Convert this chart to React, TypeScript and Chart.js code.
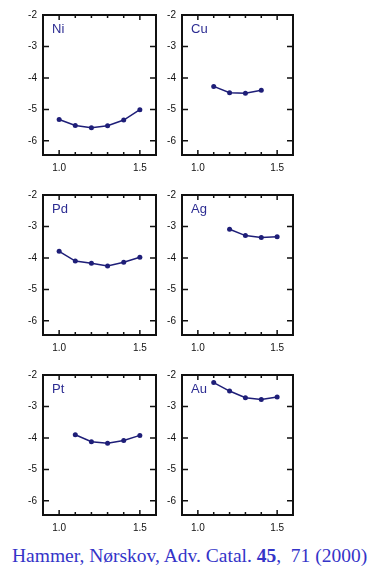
import React, { useEffect, useRef } from "react";
import { Chart, registerables } from "chart.js";

Chart.register(...registerables);

const NI_X = [1.0, 1.1, 1.2, 1.3, 1.4, 1.5];
const NI_Y = [-5.32, -5.51, -5.58, -5.52, -5.34, -5.01];
const CU_X = [1.1, 1.2, 1.3, 1.4];
const CU_Y = [-4.27, -4.47, -4.49, -4.39];
const PD_X = [1.0, 1.1, 1.2, 1.3, 1.4, 1.5];
const PD_Y = [-3.79, -4.1, -4.17, -4.26, -4.14, -3.98];
const AG_X = [1.2, 1.3, 1.4, 1.5];
const AG_Y = [-3.09, -3.29, -3.35, -3.33];
const PT_X = [1.1, 1.2, 1.3, 1.4, 1.5];
const PT_Y = [-3.9, -4.12, -4.17, -4.08, -3.92];
const AU_X = [1.1, 1.2, 1.3, 1.4, 1.5];
const AU_Y = [-2.24, -2.51, -2.72, -2.78, -2.7];

const Y_TICKS = [-2, -3, -4, -5, -6];
const X_TICKS = [1.0, 1.5];
const X_MINOR = [1.1, 1.2, 1.3, 1.4];

const PANELS = [
  { name: "Ni", xs: NI_X, ys: NI_Y, col: 0, row: 0 },
  { name: "Cu", xs: CU_X, ys: CU_Y, col: 1, row: 0 },
  { name: "Pd", xs: PD_X, ys: PD_Y, col: 0, row: 1 },
  { name: "Ag", xs: AG_X, ys: AG_Y, col: 1, row: 1 },
  { name: "Pt", xs: PT_X, ys: PT_Y, col: 0, row: 2 },
  { name: "Au", xs: AU_X, ys: AU_Y, col: 1, row: 2 },
];

const COL_LEFT = [43, 182];
const COL_RIGHT = [156, 293];
const ROW_TOP = [13, 193, 373];
const AREA_H = 142;
const PAD_L = 32;
const PAD_T = 10;
const PAD_R = 8;
const PAD_B = 24;

const LINE_COLOR = "#1e1e78";
const LABEL_COLOR = "#2c2c92";
const TICK_FONT = { family: "'Liberation Sans', Arial, sans-serif", size: 10 };

const framePlugin = {
  id: "frame",
  afterDraw(chart: any, _args: any, opts: any) {
    const { ctx, chartArea: a, scales } = chart;
    const xs = scales.x;
    const ys = scales.y;
    ctx.save();
    ctx.strokeStyle = "#111";
    ctx.lineWidth = 2;
    ctx.strokeRect(a.left, a.top, a.right - a.left, a.bottom - a.top);
    ctx.lineWidth = 1.5;
    ctx.beginPath();
    Y_TICKS.forEach((v) => {
      const y = ys.getPixelForValue(v);
      ctx.moveTo(a.left, y);
      ctx.lineTo(a.left + 6, y);
      ctx.moveTo(a.right, y);
      ctx.lineTo(a.right - 6, y);
    });
    X_TICKS.forEach((v) => {
      const x = xs.getPixelForValue(v);
      ctx.moveTo(x, a.bottom);
      ctx.lineTo(x, a.bottom - 5);
      ctx.moveTo(x, a.top);
      ctx.lineTo(x, a.top + 5);
    });
    X_MINOR.forEach((v) => {
      const x = xs.getPixelForValue(v);
      ctx.moveTo(x, a.bottom);
      ctx.lineTo(x, a.bottom - 3);
      ctx.moveTo(x, a.top);
      ctx.lineTo(x, a.top + 3);
    });
    ctx.stroke();
    ctx.fillStyle = LABEL_COLOR;
    ctx.font = "13px 'Liberation Sans', Arial, sans-serif";
    ctx.textBaseline = "alphabetic";
    ctx.textAlign = "left";
    ctx.fillText(opts.label, a.left + 9, a.top + 18);
    ctx.restore();
  },
};

function Panel({ p }: { p: any }) {
  const ref = useRef<HTMLCanvasElement>(null);
  const left = COL_LEFT[p.col] - PAD_L;
  const top = ROW_TOP[p.row] - PAD_T;
  const width = COL_RIGHT[p.col] - COL_LEFT[p.col] + PAD_L + PAD_R;
  const height = AREA_H + PAD_T + PAD_B;

  useEffect(() => {
    if (!ref.current) return;
    const data = p.xs.map((x: number, i: number) => ({ x, y: p.ys[i] }));
    const chart = new Chart(ref.current, {
      type: "line",
      data: {
        datasets: [
          {
            data,
            borderColor: LINE_COLOR,
            backgroundColor: LINE_COLOR,
            borderWidth: 1.5,
            pointRadius: 2.5,
            pointBorderWidth: 0,
            tension: 0,
          },
        ],
      },
      options: {
        animation: false,
        responsive: false,
        maintainAspectRatio: false,
        layout: { padding: { top: PAD_T, right: PAD_R, left: 0, bottom: 0 } },
        plugins: {
          legend: { display: false },
          tooltip: { enabled: false },
          frame: { label: p.name },
        } as any,
        scales: {
          x: {
            type: "linear",
            min: 0.9,
            max: 1.6,
            grid: { display: false, drawTicks: false },
            border: { display: false },
            afterBuildTicks: (axis: any) => {
              axis.ticks = X_TICKS.map((v) => ({ value: v }));
            },
            afterFit: (axis: any) => {
              axis.height = PAD_B;
            },
            ticks: {
              padding: 7,
              color: "#111",
              font: TICK_FONT,
              maxRotation: 0,
              callback: (v: any) => Number(v).toFixed(1),
            },
          },
          y: {
            type: "linear",
            min: -6.45,
            max: -2,
            grid: { display: false, drawTicks: false },
            border: { display: false },
            afterBuildTicks: (axis: any) => {
              axis.ticks = Y_TICKS.map((v) => ({ value: v }));
            },
            afterFit: (axis: any) => {
              axis.width = PAD_L;
            },
            ticks: {
              padding: 6,
              color: "#111",
              font: TICK_FONT,
              callback: (v: any) => String(v),
            },
          },
        },
      },
      plugins: [framePlugin],
    });
    return () => chart.destroy();
  }, []);

  return (
    <canvas
      ref={ref}
      width={width}
      height={height}
      style={{ position: "absolute", left, top, width, height }}
    />
  );
}

export default function App() {
  return (
    <div
      style={{
        position: "absolute",
        left: 0,
        top: 0,
        width: 383,
        height: 571,
        background: "#fff",
        overflow: "hidden",
      }}
    >
      {PANELS.map((p) => (
        <Panel key={p.name} p={p} />
      ))}
      <div
        style={{
          position: "absolute",
          left: 12,
          top: 546,
          whiteSpace: "pre",
          fontFamily: "'Liberation Serif', 'Times New Roman', serif",
          fontSize: 19.5,
          lineHeight: "20px",
          color: "#3434c8",
        }}
      >
        {"Hammer, Nørskov, Adv. Catal. "}
        <b>45</b>
        {",  71 (2000)"}
      </div>
    </div>
  );
}
